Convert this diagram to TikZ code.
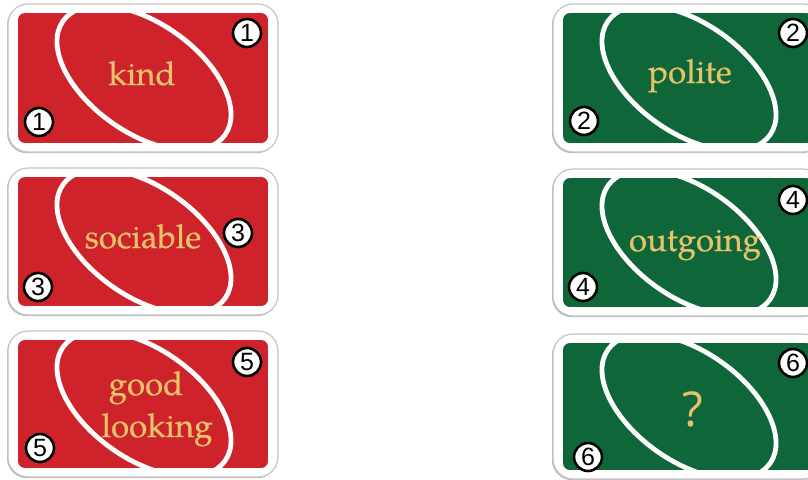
\documentclass[tikz,border=0pt]{standalone}
\usepackage{fontspec}
\setmainfont{TeX Gyre Pagella}
\newfontfamily\wordfont[FakeBold=0.6]{TeX Gyre Pagella}
\newfontfamily\digitfont{Liberation Sans}
\newfontfamily\qfont{Open Sans}
\definecolor{unored}{HTML}{CF232B}
\definecolor{unogreen}{HTML}{0F6639}
\definecolor{unogold}{HTML}{E6C26A}
\definecolor{edgegray}{HTML}{C4C4C4}
\tikzset{
  cardshadow/.style={fill=black!28, rounded corners=20pt},
  cardouter/.style={fill=white, draw=edgegray, line width=1.2pt, rounded corners=20pt},
  cardinner/.style={rounded corners=7pt},
  ringline/.style={draw=white, line width=4.8pt},
  numdisc/.style={circle, fill=white, draw=black, line width=2.6pt, minimum size=28pt, inner sep=0pt,
    font=\digitfont\fontsize{25}{25}\selectfont},
  wordtext/.style={anchor=base, inner sep=0pt, text=unogold, font=\wordfont\fontsize{33}{36}\selectfont},
}
\newcommand{\unocard}[5]{% #1 left, #2 top, #3 right, #4 bottom (inner), #5 colour
  \fill[cardshadow] (#1-11,#2-8) rectangle (#3+9,#4+10.2);
  \draw[cardouter] (#1-10,#2-9) rectangle (#3+10,#4+9);
  \begin{scope}
    \clip[cardinner] (#1,#2) rectangle (#3,#4);
    \fill[#5] (#1,#2) rectangle (#3,#4);
    \draw[ringline, shift={({(#1+#3)/2+1},{(#2+#4)/2})}, rotate=-35] (0,0) ellipse [x radius=99, y radius=55];
  \end{scope}
}
\begin{document}
\begin{tikzpicture}[x=1pt,y=-1pt]
\useasboundingbox (0,0) rectangle (808,479);
% card 1
\unocard{18}{13}{268}{143}{unored}
\node[wordtext] (w1) at (142,85) {kind};
\node[numdisc] (n1a) at (247,33) {1};
\node[numdisc] (n1b) at (39,122) {1};
% card 2
\unocard{563}{13}{813}{143}{unogreen}
\node[wordtext] (w2) at (690,83) {polite};
\node[numdisc] (n2a) at (793,33) {2};
\node[numdisc] (n2b) at (584,121) {2};
% card 3
\unocard{18}{177}{268}{306}{unored}
\node[wordtext] (w3) at (143,248) {sociable};
\node[numdisc] (n3a) at (238,233) {3};
\node[numdisc] (n3b) at (38,287) {3};
% card 4
\unocard{563}{178}{813}{307}{unogreen}
\node[wordtext] (w4) at (695,251) {outgoing};
\node[numdisc] (n4a) at (793,200) {4};
\node[numdisc] (n4b) at (583,287) {4};
% card 5
\unocard{18}{340}{268}{468}{unored}
\node[wordtext] (w5a) at (146,395) {good};
\node[wordtext] (w5b) at (157,437) {looking};
\node[numdisc] (n5a) at (247,362) {5};
\node[numdisc] (n5b) at (40,448) {5};
% card 6
\unocard{563}{343}{813}{470}{unogreen}
\node[wordtext, font=\qfont\fontsize{48}{48}\selectfont] (w6) at (693,426) {?};
\node[numdisc] (n6a) at (793,363) {6};
\node[numdisc] (n6b) at (588,457) {6};
\end{tikzpicture}
\end{document}
